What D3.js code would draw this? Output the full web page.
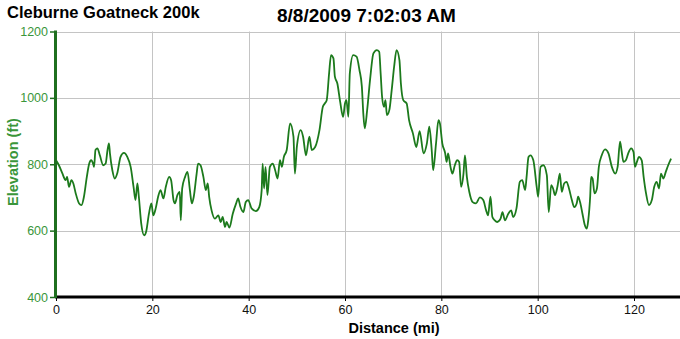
<!DOCTYPE html>
<html><head><meta charset="utf-8">
<script src="https://cdn.jsdelivr.net/npm/d3@7"></script>
<style>
html,body{margin:0;padding:0;background:#fff;}
svg{display:block;font-family:"Liberation Sans",Arial,sans-serif;}
</style></head>
<body>
<svg id="c" width="680" height="339"></svg>
<script>
const title = "Cleburne Goatneck 200k";
const subtitle = "8/8/2009 7:02:03 AM";
const xLabel = "Distance (mi)";
const yLabel = "Elevation (ft)";
const xTicks = [0,20,40,60,80,100,120];
const yTicks = [400,600,800,1000,1200];

const distance = [
0,0.6,1.3,2.0,2.3,2.7,3.2,3.6,4.1,4.8,
5.3,5.8,6.4,6.9,7.3,7.7,7.9,8.2,8.6,9.1,
9.8,10.3,10.7,11.0,11.2,11.7,12.2,12.7,13.4,14.1,
14.8,15.5,16.1,16.5,16.9,17.2,17.7,18.3,18.7,19.3,
19.8,20.2,20.7,21.2,21.7,22.3,22.8,23.5,23.9,24.4,
24.7,25.2,25.7,25.9,26.2,26.8,27.3,27.8,28.2,28.6,
29.2,29.5,30.0,30.6,31.1,31.5,31.8,32.3,33.0,33.7,
34.2,34.6,35.1,35.4,36.0,36.7,37.4,37.8,38.3,38.9,
39.4,39.9,40.6,41.5,42.2,42.7,42.9,43.2,43.5,43.9,
44.4,45.0,45.5,46.0,46.5,46.9,47.3,47.9,48.6,49.3,
49.6,50.0,50.8,51.3,51.9,52.6,53.1,53.8,54.7,55.4,
55.8,56.2,56.7,57.1,57.6,57.9,58.4,59.0,59.6,60.0,
60.3,60.7,61.0,61.7,62.4,63.0,63.5,63.8,64.1,64.6,
65.2,65.9,66.6,67.1,67.4,67.7,68.1,68.4,68.7,69.2,
69.7,70.2,70.7,71.3,71.6,72.1,72.8,73.3,74.1,74.8,
75.5,76.3,77.0,77.5,78.0,78.3,78.9,79.4,79.7,80.2,
80.8,81.1,81.4,81.9,82.3,82.8,83.3,83.7,84.1,84.6,
84.9,85.3,85.8,86.5,87.2,88.0,88.7,89.3,89.7,90.2,
90.6,91.1,91.6,92.3,92.7,93.2,93.9,94.5,94.9,95.6,
96.3,96.8,97.4,97.7,98.1,98.5,99.1,99.8,100.1,100.6,
101.2,101.9,102.3,102.8,103.2,103.6,104.1,104.6,105.0,105.5,
106.0,106.5,107.1,107.6,108.1,108.4,108.8,109.3,109.8,110.2,
110.5,110.9,111.1,111.4,111.8,112.3,112.7,113.3,114.0,114.7,
115.4,116.1,116.6,117.1,117.4,117.8,118.3,118.8,119.4,119.9,
120.2,120.6,121.0,121.6,122.0,122.5,123.1,123.7,124.2,124.7,
125.2,125.6,126.1,126.6,127.1,127.7];

const elevation = [
812,797,773,752,762,732,752,742,712,682,
677,702,762,802,812,802,792,843,848,827,
797,802,843,863,833,782,757,772,822,834,
822,792,732,692,742,702,621,586,596,651,
682,646,667,702,722,697,732,762,752,692,
682,707,717,631,727,762,777,722,682,702,
772,802,797,762,722,742,702,661,636,646,
626,641,611,626,609,651,682,697,671,656,
686,692,667,659,671,722,802,727,792,707,
792,802,782,757,812,792,822,843,923,883,
772,852,903,883,827,883,843,852,903,973,
983,993,1074,1129,1119,1064,1044,988,943,983,
993,943,1074,1129,1124,1084,1034,953,908,963,
1054,1134,1144,1139,1074,1003,973,993,948,963,
1024,1094,1144,1114,1044,993,983,933,893,852,
900,833,863,913,843,782,863,933,923,863,
833,807,833,792,772,797,812,807,732,772,
827,762,717,686,682,700,692,661,646,702,
641,631,626,636,656,631,651,661,641,667,
747,752,722,762,822,827,812,732,702,792,
797,767,656,737,727,707,732,772,717,742,
747,727,692,671,682,702,686,651,616,606,
631,702,762,757,712,727,792,827,845,833,
792,772,792,868,843,807,812,833,848,837,
792,807,822,812,762,712,677,692,732,747,
727,772,757,777,797,817];

const svg = d3.select("#c");
const L = 56, R = 680, T = 31.5, B = 297;
const x = d3.scaleLinear().domain([0, 129.55]).range([L, R]);
const y = d3.scaleLinear().domain([400, 1200]).range([B, T]);

// grid
svg.append("g").selectAll("line.v").data(xTicks.filter(d=>d>0)).join("line")
  .attr("x1", d=>Math.round(x(d))+0.5).attr("x2", d=>Math.round(x(d))+0.5)
  .attr("y1", T).attr("y2", B).attr("stroke", "#c4c4c4").attr("stroke-width", 1);
svg.append("g").selectAll("line.h").data(yTicks.filter(d=>d>400)).join("line")
  .attr("x1", L).attr("x2", R)
  .attr("y1", d=>Math.round(y(d))+0.5).attr("y2", d=>Math.round(y(d))+0.5)
  .attr("stroke", "#c4c4c4").attr("stroke-width", 1);

// line
const line = d3.line().x((d,i)=>x(distance[i])).y((d,i)=>y(elevation[i])).curve(d3.curveMonotoneX);
svg.append("path").datum(elevation).attr("d", line)
  .attr("fill", "none").attr("stroke", "#1c7a1c").attr("stroke-width", 1.8).attr("stroke-linejoin","round");

// x axis
const xa = svg.append("g").attr("transform", `translate(0,${B})`)
  .call(d3.axisBottom(x).tickValues(xTicks).tickFormat(d3.format("d")).tickSize(4).tickSizeOuter(0).tickPadding(4));
xa.select(".domain").remove();
xa.selectAll(".tick line").attr("stroke", "#000");
xa.selectAll("text").attr("font-size", "12.5px").attr("fill", "#111")
  .attr("font-family", "'Liberation Sans', Arial, sans-serif");
svg.append("line").attr("x1", L-1).attr("x2", R).attr("y1", B).attr("y2", B)
  .attr("stroke", "#000").attr("stroke-width", 3);

// y axis
const ya = svg.append("g").attr("transform", `translate(${L-1},0)`)
  .call(d3.axisLeft(y).tickValues(yTicks).tickFormat(d3.format("d")).tickSize(5).tickSizeOuter(0).tickPadding(2));
ya.select(".domain").remove();
ya.selectAll(".tick line").attr("stroke", "#1f6f1f").attr("stroke-width", 1.5);
ya.selectAll("text").attr("font-size", "12.5px").attr("fill", "#3a963a")
  .attr("font-family", "'Liberation Sans', Arial, sans-serif");
svg.append("line").attr("x1", L-0.5).attr("x2", L-0.5).attr("y1", T-1).attr("y2", B+1)
  .attr("stroke", "#1f6f1f").attr("stroke-width", 3);

// titles
svg.append("text").attr("x", 7).attr("y", 17.5).text(title)
  .attr("font-size", "16.5px").attr("font-weight", "bold").attr("fill", "#000");
svg.append("text").attr("x", 277).attr("y", 21.5).text(subtitle)
  .attr("font-size", "19px").attr("font-weight", "bold").attr("fill", "#000");
svg.append("text").attr("x", 394).attr("y", 333).attr("text-anchor", "middle").text(xLabel)
  .attr("font-size", "14.5px").attr("font-weight", "bold").attr("fill", "#000");
svg.append("text").attr("transform", "translate(18,162) rotate(-90)").attr("text-anchor", "middle").text(yLabel)
  .attr("font-size", "14.5px").attr("font-weight", "bold").attr("fill", "#3a963a");
</script>
</body></html>
